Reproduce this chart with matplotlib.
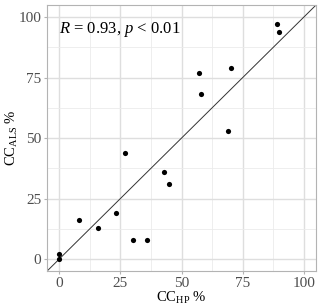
import numpy as np
import matplotlib
matplotlib.use("Agg")
import matplotlib.pyplot as plt

plt.rcParams['font.family'] = ['Liberation Serif', 'DejaVu Serif']
plt.rcParams['mathtext.fontset'] = 'custom'
plt.rcParams['mathtext.rm'] = 'Liberation Serif'
plt.rcParams['mathtext.it'] = 'Liberation Serif:italic'

# CC from HP vs CC from ALS (%)
cc_hp = [0, 0, 8, 16, 23, 27, 30, 36, 43, 45, 57, 58, 69, 70, 89, 90]
cc_als = [2, 0, 16, 13, 19, 44, 8, 8, 36, 31, 77, 68, 53, 79, 97, 94]
ticks = [0, 25, 50, 75, 100]
minor = [12.5, 37.5, 62.5, 87.5]

fig = plt.figure(figsize=(3.2, 3.06), dpi=100)
ax = fig.add_axes([0.147, 0.114, 0.841, 0.870])

ax.set_xlim(-5, 105)
ax.set_ylim(-5, 105)
ax.set_xticks(ticks)
ax.set_yticks(ticks)
ax.set_xticks(minor, minor=True)
ax.set_yticks(minor, minor=True)
ax.grid(which='major', color='#DEDEDE', linewidth=1.0)
ax.grid(which='minor', color='#EBEBEB', linewidth=0.6)
ax.set_axisbelow(True)
ax.tick_params(which='major', length=2.5, color='#B3B3B3', labelcolor='#4D4D4D',
               labelsize=11, pad=1.5)
ax.tick_params(which='minor', length=0)
for s in ax.spines.values():
    s.set_color('#B3B3B3')
    s.set_linewidth(0.8)

# 1:1 line
ax.axline((0, 0), slope=1, color='#333333', linewidth=0.7, zorder=2)
ax.scatter(cc_hp, cc_als, s=14, color='black', zorder=3, linewidths=0)

ax.text(0, 95, r'$R$ = 0.93, $p$ < 0.01', fontsize=12, va='center', ha='left')

ax.set_xlabel(r'$\mathrm{CC}_{\mathrm{HP}}$ %', fontsize=10.5)
ax.set_ylabel(r'$\mathrm{CC}_{\mathrm{ALS}}$ %', fontsize=10.5)
ax.xaxis.set_label_coords(0.5, -0.072)
ax.yaxis.set_label_coords(-0.10, 0.5)

fig.savefig('out.png', dpi=100)
